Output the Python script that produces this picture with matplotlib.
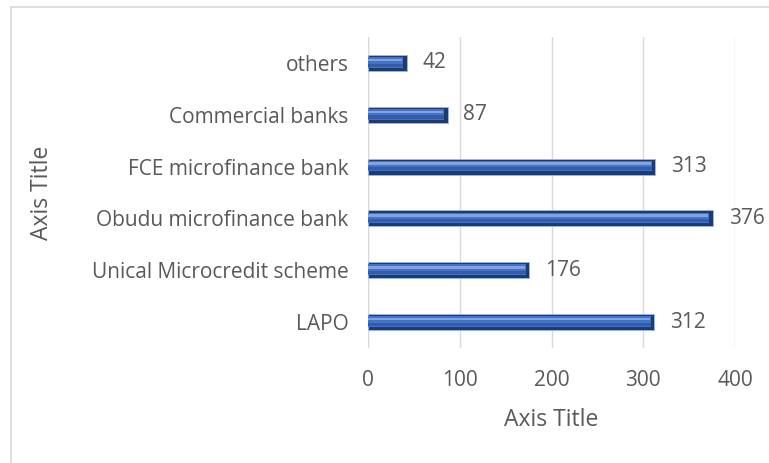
import matplotlib.pyplot as plt
import numpy as np

# data
categories = ['LAPO', 'Unical Microcredit scheme', 'Obudu microfinance bank',
              'FCE microfinance bank', 'Commercial banks', 'others']
values = [312, 176, 376, 313, 87, 42]
x_ticks = [0, 100, 200, 300, 400]

plt.rcParams['font.family'] = ['Open Sans', 'DejaVu Sans']
text_color = '#595959'

fig = plt.figure(figsize=(7.69, 4.63), dpi=100)
ax = fig.add_axes([368 / 769, 1 - 348 / 463, (735 - 368) / 769, (348 - 37) / 463])

y = np.arange(len(categories))
h = 0.31
vals = np.array(values, dtype=float)

# bevelled bars: dark base/right cap, mid body, light highlight
ax.barh(y, vals, height=h, color='#1f3a6e', edgecolor='#9db9ea', linewidth=0.6, zorder=2)
ax.barh(y + 0.01, vals - 4, height=h * 0.66, color='#4472C4', linewidth=0, zorder=3)
ax.barh(y + h * 0.18, vals - 5, height=h * 0.16, color='#7fa3e6', linewidth=0, zorder=4)
ax.barh(y - h * 0.14, vals - 4, height=h * 0.2, color='#345da6', linewidth=0, zorder=4)

for yi, v in zip(y, values):
    ax.text(v + 17, yi, str(v), va='center', ha='left', fontsize=15, color=text_color)

ax.set_xlim(0, 400)
ax.set_ylim(-0.5, len(categories) - 0.5)
ax.set_xticks(x_ticks)
ax.set_yticks(y)
ax.set_yticklabels(categories)
ax.tick_params(axis='both', length=0, labelsize=15, labelcolor=text_color)
ax.tick_params(axis='x', pad=16)
ax.tick_params(axis='y', pad=14)
ax.grid(axis='x', color='#d9d9d9', linewidth=1, zorder=0)
ax.set_axisbelow(True)
for s in ax.spines.values():
    s.set_visible(False)
ax.axvline(0, color='#d9d9d9', linewidth=1, zorder=1)

ax.set_xlabel('Axis Title', fontsize=16.5, color=text_color, labelpad=12)
ax.set_ylabel('Axis Title', fontsize=16.5, color=text_color)
ax.yaxis.set_label_coords((54 - 368) / 367, 0.5)

# chart border (top and left edges visible)
fig.add_artist(plt.Line2D([11 / 769, 1], [1 - 7 / 463, 1 - 7 / 463], color='#d9d9d9', linewidth=1.2))
fig.add_artist(plt.Line2D([11 / 769, 11 / 769], [0, 1 - 7 / 463], color='#d9d9d9', linewidth=1.2))

fig.savefig('out.png', dpi=100)
